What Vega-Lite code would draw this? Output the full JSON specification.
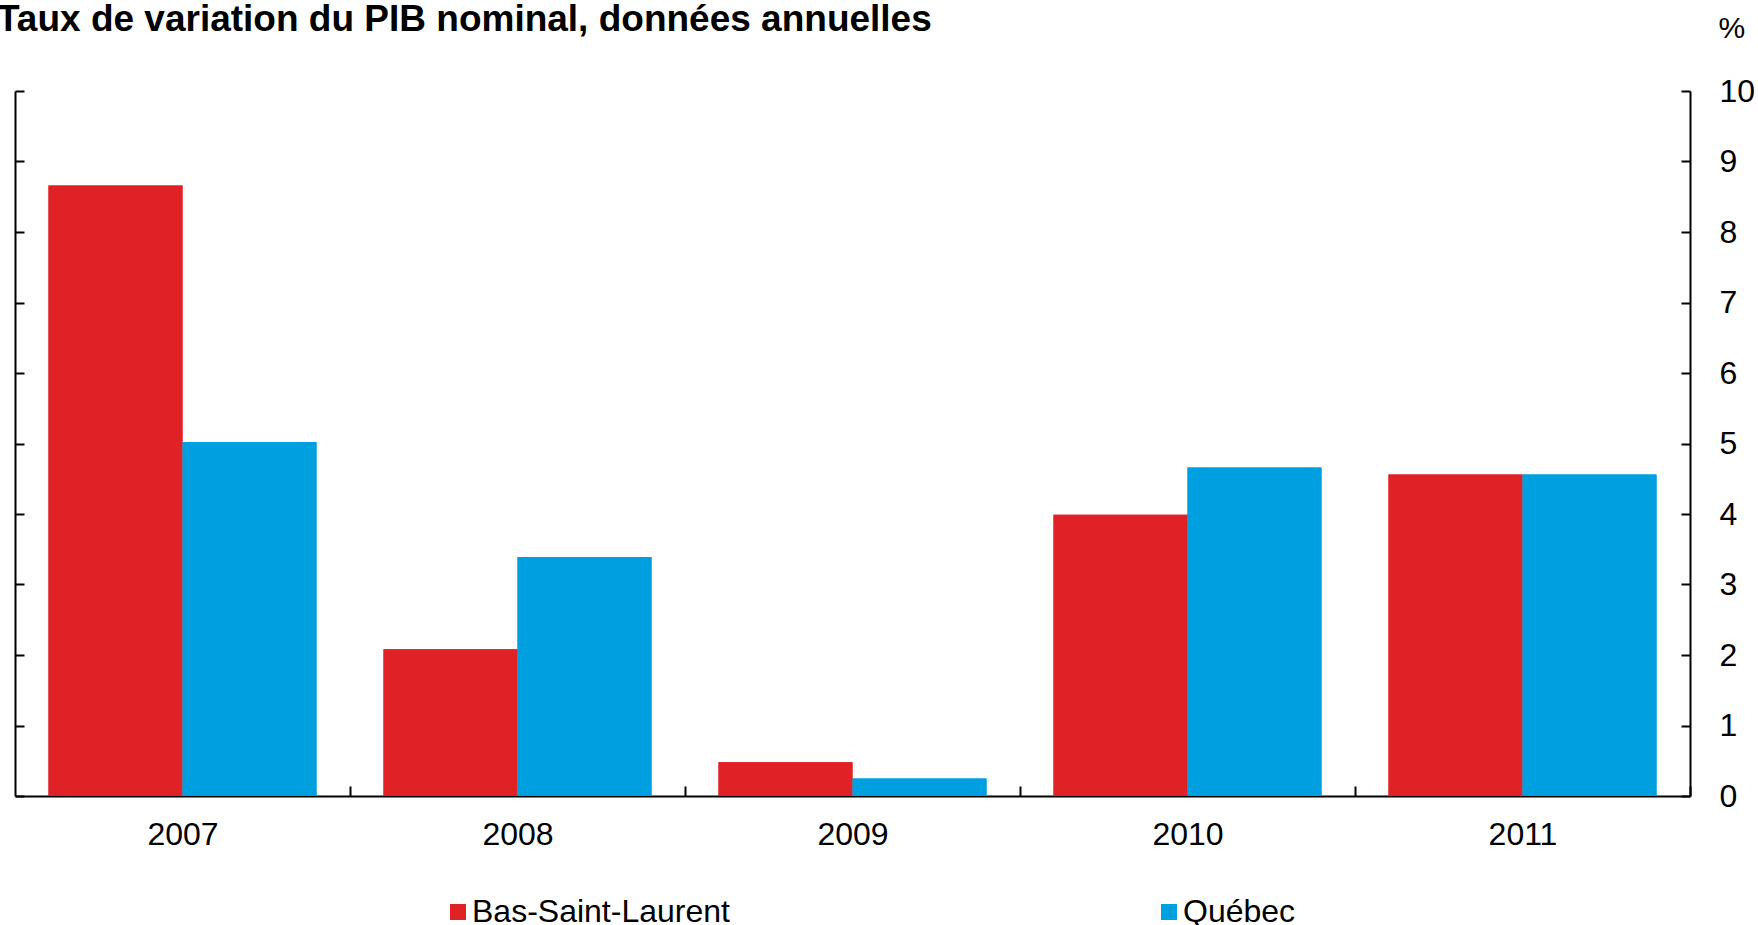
{
  "$schema": "https://vega.github.io/schema/vega-lite/v6.json",
  "width": 1675,
  "height": 705,
  "autosize": {"type": "none"},
  "padding": {"left": 15, "top": 91, "right": 68, "bottom": 129},
  "background": "white",
  "config": {"view": {"stroke": null}, "font": "Liberation Sans"},
  "title": {
    "text": "Taux de variation du PIB nominal, données annuelles",
    "anchor": "start",
    "frame": "group",
    "font": "Liberation Sans",
    "fontSize": 37,
    "fontWeight": "bold",
    "color": "black",
    "dx": -18,
    "offset": -55,
    "baseline": "alphabetic"
  },
  "data": {
    "values": [
      {"annee": "2007", "region": "Bas-Saint-Laurent", "taux": 8.66},
      {"annee": "2007", "region": "Québec", "taux": 5.02},
      {"annee": "2008", "region": "Bas-Saint-Laurent", "taux": 2.08},
      {"annee": "2008", "region": "Québec", "taux": 3.39},
      {"annee": "2009", "region": "Bas-Saint-Laurent", "taux": 0.48},
      {"annee": "2009", "region": "Québec", "taux": 0.25},
      {"annee": "2010", "region": "Bas-Saint-Laurent", "taux": 3.99},
      {"annee": "2010", "region": "Québec", "taux": 4.66},
      {"annee": "2011", "region": "Bas-Saint-Laurent", "taux": 4.56},
      {"annee": "2011", "region": "Québec", "taux": 4.56}
    ]
  },
  "encoding": {
    "x": {
      "field": "annee",
      "type": "nominal",
      "scale": {"paddingInner": 0.2, "paddingOuter": 0.1},
      "axis": {
        "title": null,
        "labelAngle": 0,
        "labelFont": "Liberation Sans",
        "labelFontSize": 32,
        "labelColor": "black",
        "labelPadding": 33,
        "tickOffset": 167.5,
        "labelOffset": -167.5,
        "tickSize": -10,
        "tickWidth": 2,
        "tickColor": "black",
        "domainColor": "black",
        "domainWidth": 2,
        "grid": false
      }
    },
    "xOffset": {
      "field": "region",
      "type": "nominal",
      "sort": ["Bas-Saint-Laurent", "Québec"],
      "scale": {"paddingInner": 0, "paddingOuter": 0}
    },
    "color": {
      "field": "region",
      "type": "nominal",
      "scale": {"domain": ["Bas-Saint-Laurent", "Québec"], "range": ["#E02126", "#009FDF"]},
      "legend": {
        "orient": "none",
        "legendX": 427,
        "legendY": 805,
        "direction": "horizontal",
        "title": null,
        "symbolType": "square",
        "symbolSize": 256,
        "symbolStrokeWidth": 0,
        "symbolOpacity": 1,
        "labelFont": "Liberation Sans",
        "labelFontSize": 32,
        "labelColor": "black",
        "labelOffset": -2,
        "labelLimit": 500,
        "columnPadding": 423,
        "padding": 0
      }
    }
  },
  "layer": [
    {
      "mark": {"type": "bar"},
      "encoding": {
        "y": {
          "field": "taux",
          "type": "quantitative",
          "scale": {"domain": [0, 10], "nice": false},
          "axis": {
            "orient": "left",
            "title": null,
            "labels": false,
            "values": [0, 1, 2, 3, 4, 5, 6, 7, 8, 9, 10],
            "tickSize": -9,
            "tickWidth": 2,
            "tickColor": "black",
            "domainColor": "black",
            "domainWidth": 2,
            "grid": false
          }
        }
      }
    },
    {
      "mark": {"type": "bar"},
      "encoding": {
        "y": {
          "field": "taux",
          "type": "quantitative",
          "scale": {"domain": [0, 10], "nice": false},
          "axis": {
            "orient": "right",
            "title": "%",
            "titleAngle": 0,
            "titleAlign": "left",
            "titleBaseline": "alphabetic",
            "titleX": 28,
            "titleY": -54,
            "titleFont": "Liberation Sans",
            "titleFontSize": 30,
            "titleFontWeight": "normal",
            "titleColor": "black",
            "values": [0, 1, 2, 3, 4, 5, 6, 7, 8, 9, 10],
            "labelFont": "Liberation Sans",
            "labelFontSize": 32,
            "labelColor": "black",
            "labelPadding": 38,
            "tickSize": -9,
            "tickWidth": 2,
            "tickColor": "black",
            "domainColor": "black",
            "domainWidth": 2,
            "grid": false
          }
        }
      }
    }
  ],
  "resolve": {"axis": {"y": "independent"}}
}
